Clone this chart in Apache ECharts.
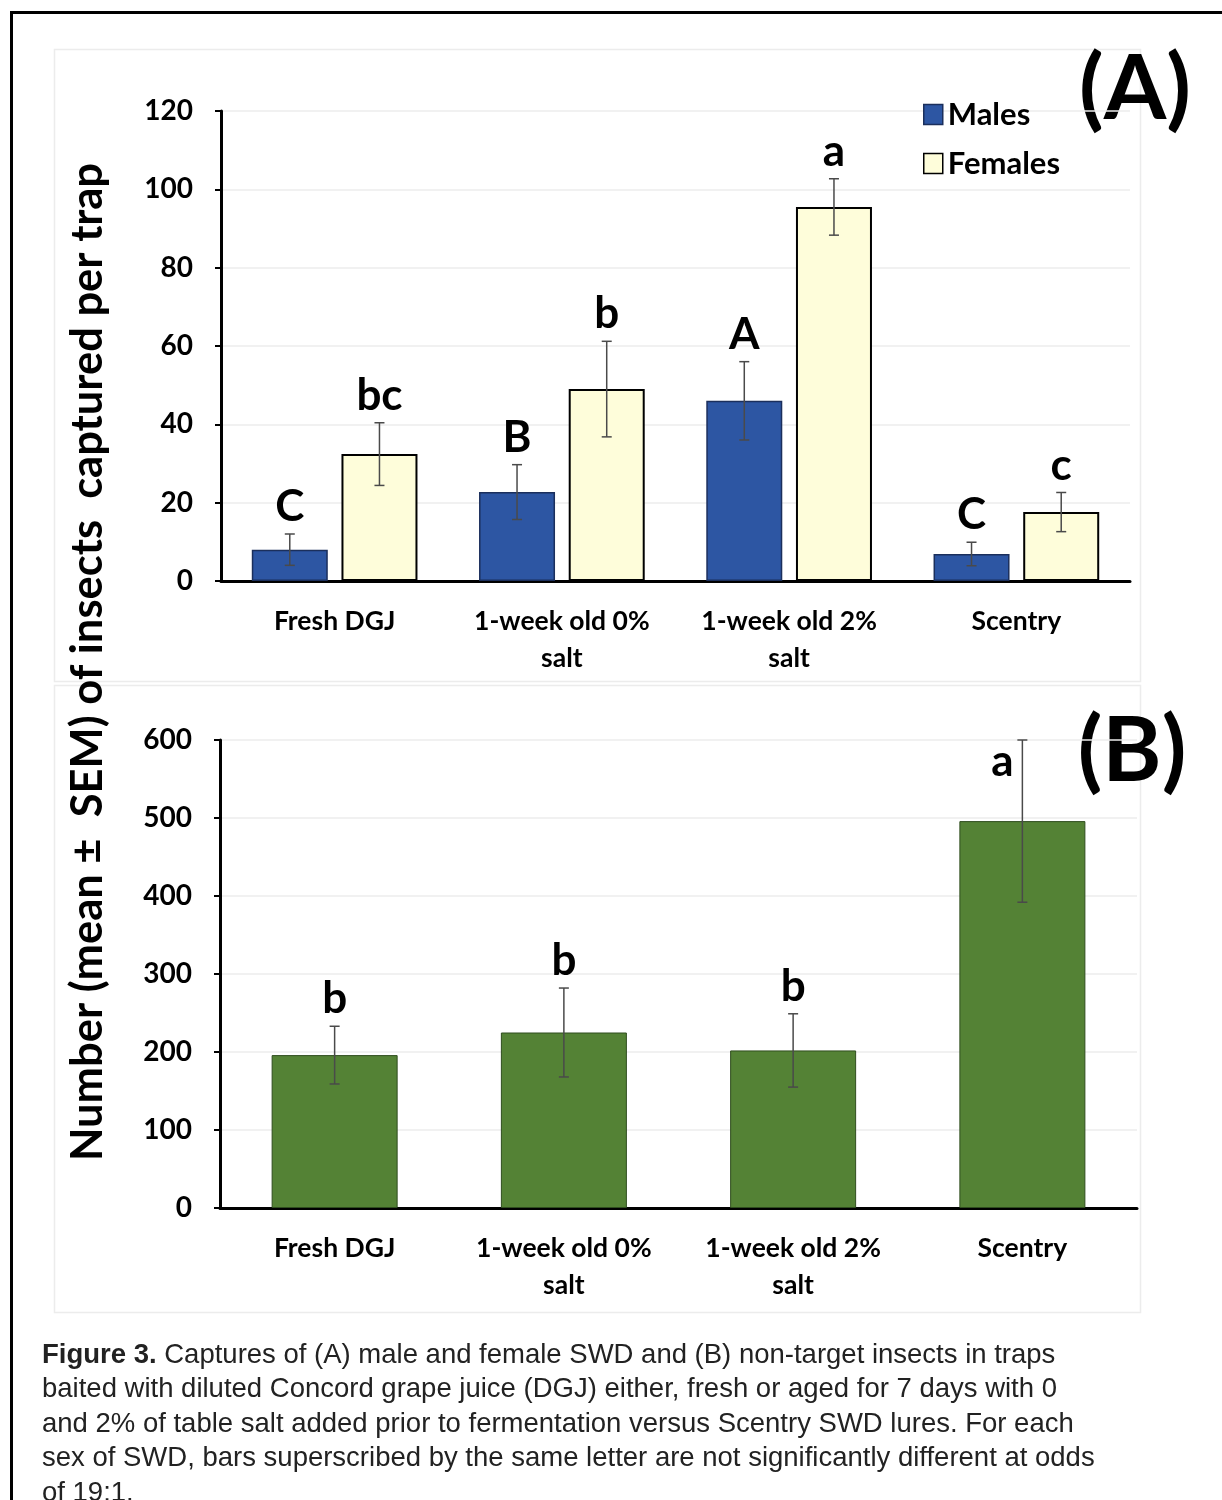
<!DOCTYPE html>
<html>
<head>
<meta charset="utf-8">
<style>
html,body{margin:0;padding:0;background:#fff;}
#chart{width:1222px;height:1500px;}
</style>
<script src="https://cdn.jsdelivr.net/npm/echarts@6/dist/echarts.min.js"></script>
</head>
<body>
<div id="chart"></div>
<script>
// ---------- data ----------
const categories = ['Fresh DGJ', '1-week old 0%\nsalt', '1-week old 2%\nsalt', 'Scentry'];
const malesMean = [8, 22.7, 46, 6.9];
const malesSem = [4, 7, 10, 3];
const malesLetters = ['C', 'B', 'A', 'C'];
const femalesMean = [32.4, 49, 95.5, 17.6];
const femalesSem = [8, 12.2, 7.2, 5];
const femalesLetters = ['bc', 'b', 'a', 'c'];
const nonTargetMean = [196, 225, 202, 496];
const nonTargetSem = [37, 57, 47, 104];
const nonTargetLetters = ['b', 'b', 'b', 'a'];
const ticksA = [0, 20, 40, 60, 80, 100, 120];
const ticksB = [0, 100, 200, 300, 400, 500, 600];
const captionLines = [
  ['Figure 3.', ' Captures of (A) male and female SWD and (B) non-target insects in traps'],
  ['', 'baited with diluted Concord grape juice (DGJ) either, fresh or aged for 7 days with 0'],
  ['', 'and 2% of table salt added prior to fermentation versus Scentry SWD lures. For each'],
  ['', 'sex of SWD, bars superscribed by the same letter are not significantly different at odds'],
  ['', 'of 19:1.']
];

// ---------- style ----------
const FONT = 'Lato';
const MALE = '#2D56A3';
const FEMALE = '#FEFDDA';
const GREEN = '#548235';
const BAR_W_A = 76, GAP_A = 0.18;
const BAR_W_B = 126;

const chart = echarts.init(document.getElementById('chart'), null, {renderer: 'canvas'});

function errItem(means, sems, letters, offsetFn, gridTop) {
  return function (params, api) {
    const i = api.value(0);
    const m = means[i], s = sems[i];
    const c = api.coord([i, m]);
    const off = offsetFn();
    const x = c[0] + off;
    const yTop = api.coord([i, m + s])[1];
    const yBot = api.coord([i, m - s])[1];
    const cap = 5;
    let ty = yTop - 27, tx = x;
    if (ty < gridTop + 22) { ty = gridTop + 22; tx = x - 20; }
    return {
      type: 'group',
      children: [
        {type: 'line', shape: {x1: x, y1: yTop, x2: x, y2: yBot}, style: {stroke: '#4a4a4a', lineWidth: 1.5}},
        {type: 'line', shape: {x1: x - cap, y1: yTop, x2: x + cap, y2: yTop}, style: {stroke: '#4a4a4a', lineWidth: 1.5}},
        {type: 'line', shape: {x1: x - cap, y1: yBot, x2: x + cap, y2: yBot}, style: {stroke: '#4a4a4a', lineWidth: 1.5}},
        {type: 'text', x: tx, y: ty, style: {text: letters[i], font: 'bold 44px ' + FONT, fill: '#000', align: 'center', verticalAlign: 'middle'}}
      ]
    };
  };
}

const offA = (BAR_W_A * (1 + GAP_A)) / 2;

function yAxisCommon(ticks, gridIndex) {
  return {
    type: 'value', gridIndex: gridIndex, min: ticks[0], max: ticks[ticks.length - 1],
    interval: ticks[1] - ticks[0],
    axisLine: {show: true, lineStyle: {color: '#000', width: 3}},
    axisTick: {show: true, length: 6, lineStyle: {color: '#000', width: 2}},
    axisLabel: {color: '#000', fontFamily: FONT, fontWeight: 'bold', fontSize: 28, margin: 28},
    splitLine: {show: true, lineStyle: {color: '#ececec', width: 1.5}}
  };
}
function xAxisCommon(gridIndex) {
  return {
    type: 'category', gridIndex: gridIndex, data: categories,
    axisLine: {show: true, lineStyle: {color: '#000', width: 3}},
    axisTick: {show: false},
    axisLabel: {color: '#000', fontFamily: FONT, fontWeight: 'bold', fontSize: 26.5, margin: 22, lineHeight: 37, interval: 0}
  };
}

const idx = categories.map((_, i) => i);

const option = {
  animation: false,
  backgroundColor: '#fff',
  textStyle: {fontFamily: FONT},
  grid: [
    {left: 221, right: 92, top: 111, bottom: 919},
    {left: 220, right: 85, top: 740, bottom: 292}
  ],
  xAxis: [xAxisCommon(0), xAxisCommon(1)],
  yAxis: [yAxisCommon(ticksA, 0), yAxisCommon(ticksB, 1)],
  legend: {
    data: ['Males', 'Females'],
    orient: 'vertical', left: 918, top: 94, itemGap: 18,
    icon: 'rect', itemWidth: 19, itemHeight: 20, itemStyle: {borderWidth: 1.5},
    textStyle: {fontFamily: FONT, fontWeight: 'bold', fontSize: 31, color: '#000'}
  },
  series: [
    {name: 'Males', type: 'bar', xAxisIndex: 0, yAxisIndex: 0, data: malesMean, barWidth: BAR_W_A, barGap: (GAP_A * 100) + '%',
      itemStyle: {color: MALE, borderColor: '#1b2f5c', borderWidth: 1.5}},
    {name: 'Females', type: 'bar', xAxisIndex: 0, yAxisIndex: 0, data: femalesMean, barWidth: BAR_W_A, barGap: (GAP_A * 100) + '%',
      itemStyle: {color: FEMALE, borderColor: '#000', borderWidth: 2}},
    {name: 'Non-target', type: 'bar', xAxisIndex: 1, yAxisIndex: 1, data: nonTargetMean, barWidth: BAR_W_B,
      itemStyle: {color: GREEN, borderColor: '#2f4d1e', borderWidth: 1}},
    {type: 'custom', xAxisIndex: 0, yAxisIndex: 0, data: idx, z: 5,
      renderItem: errItem(malesMean, malesSem, malesLetters, () => -offA, 111)},
    {type: 'custom', xAxisIndex: 0, yAxisIndex: 0, data: idx, z: 5,
      renderItem: errItem(femalesMean, femalesSem, femalesLetters, () => offA, 111)},
    {type: 'custom', xAxisIndex: 1, yAxisIndex: 1, data: idx, z: 5,
      renderItem: errItem(nonTargetMean, nonTargetSem, nonTargetLetters, () => 0, 740)}
  ],
  graphic: [
    {type: 'rect', left: 9, top: 10, z: -10, shape: {width: 1400, height: 1600}, style: {fill: 'none', stroke: '#000', lineWidth: 3}},
    {type: 'rect', left: 52, top: 47, z: -9, shape: {width: 1086, height: 632}, style: {fill: 'none', stroke: '#ececec', lineWidth: 1.5}},
    {type: 'rect', left: 52, top: 683, z: -9, shape: {width: 1086, height: 627}, style: {fill: 'none', stroke: '#ececec', lineWidth: 1.5}},
    {type: 'text', x: 1135, y: 90, style: {text: '(A)', font: 'bold 90px ' + FONT, fill: '#000', align: 'center', verticalAlign: 'middle'}},
    {type: 'text', x: 1132, y: 752, style: {text: '(B)', font: 'bold 90px ' + FONT, fill: '#000', align: 'center', verticalAlign: 'middle'}},
    {type: 'text', x: 88, y: 662, rotation: Math.PI / 2,
      style: {text: 'Number (mean \u00B1  SEM) of insects  captured per trap', font: 'bold 43.5px ' + FONT, fill: '#000', align: 'center', verticalAlign: 'middle'}}
  ].concat(captionLines.map((ln, k) => ({
    type: 'text', x: 42, y: 1355 + k * 34.6,
    style: {
      text: (ln[0] ? '{b|' + ln[0] + '}' : '') + '{n|' + ln[1] + '}',
      verticalAlign: 'middle',
      rich: {
        b: {font: 'bold 27.5px "Liberation Sans"', fill: '#222'},
        n: {font: '27.5px "Liberation Sans"', fill: '#222'}
      }
    }
  })))
};
chart.setOption(option);
</script>
</body>
</html>
